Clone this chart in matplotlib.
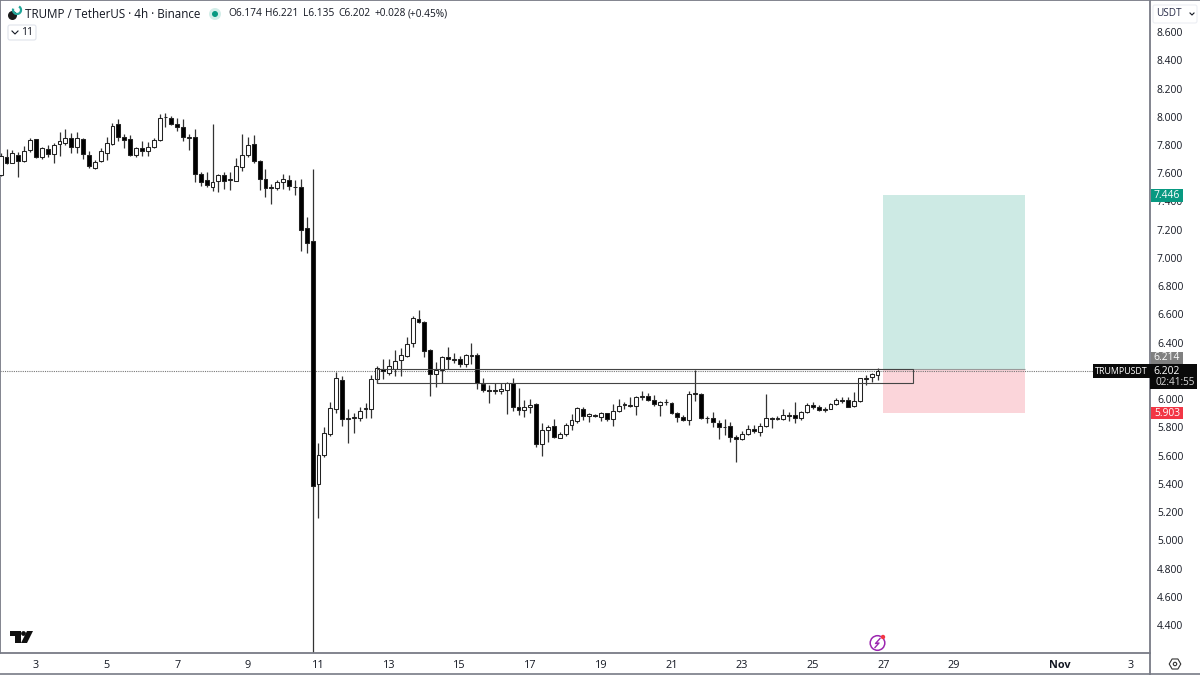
import numpy as np
import matplotlib
matplotlib.use('Agg')
import matplotlib.pyplot as plt
from matplotlib.patches import Rectangle, Circle, Polygon, FancyBboxPatch, Arc

plt.rcParams['font.family'] = ['Open Sans', 'DejaVu Sans']

# 4h candles
opens = [7.584,7.717,7.674,7.729,7.688,7.764,7.840,7.712,7.769,7.736,
         7.804,7.814,7.847,7.783,7.840,7.729,7.634,7.686,7.745,7.806,
         7.948,7.858,7.840,7.726,7.776,7.759,7.783,7.835,7.995,7.988,
         7.948,7.927,7.849,7.856,7.596,7.549,7.504,7.547,7.585,7.552,
         7.547,7.646,7.729,7.809,7.688,7.556,7.495,7.497,7.537,7.549,
         7.504,7.500,7.210,7.118,5.397,5.602,5.753,5.930,6.138,5.857,
         5.869,5.866,5.930,5.930,6.145,6.216,6.188,6.216,6.277,6.308,
         6.395,6.570,6.549,6.348,6.176,6.204,6.301,6.277,6.287,6.249,
         6.308,6.310,6.110,6.065,6.060,6.058,6.065,6.112,5.942,5.926,
         5.942,5.966,5.680,5.782,5.808,5.727,5.751,5.815,5.845,5.928,
         5.881,5.888,5.876,5.900,5.857,5.916,5.961,5.954,5.952,6.018,
         6.022,5.992,5.961,5.977,5.975,5.900,5.876,5.852,6.036,6.039,
         5.864,5.869,5.834,5.805,5.812,5.734,5.716,5.751,5.789,5.770,
         5.812,5.867,5.862,5.862,5.885,5.885,5.864,5.909,5.959,5.947,
         5.921,5.933,5.963,5.996,5.994,5.949,5.987,6.145,6.159,6.174]
highs = [7.740,7.769,7.764,7.752,7.795,7.847,7.840,7.788,7.799,7.816,
         7.894,7.910,7.887,7.894,7.847,7.759,7.693,7.776,7.858,7.953,
         7.981,7.875,7.870,7.788,7.830,7.823,7.851,8.019,8.028,8.005,
         7.988,7.981,7.875,7.910,7.611,7.611,7.948,7.594,7.611,7.611,
         7.705,7.877,7.858,7.870,7.693,7.627,7.523,7.552,7.594,7.587,
         7.552,7.557,7.287,7.627,5.692,5.805,5.980,6.194,6.164,5.932,
         5.900,5.947,5.975,6.171,6.235,6.287,6.282,6.348,6.360,6.438,
         6.589,6.631,6.556,6.357,6.265,6.306,6.372,6.329,6.308,6.320,
         6.395,6.329,6.152,6.100,6.117,6.112,6.124,6.147,6.079,5.994,
         5.999,5.970,5.829,5.817,5.857,5.770,5.834,5.895,5.942,5.942,
         5.904,5.895,5.911,5.904,5.963,5.999,5.977,6.018,6.022,6.060,
         6.041,6.029,5.989,5.999,5.982,5.911,5.888,6.060,6.206,6.041,
         5.881,5.907,5.852,5.857,5.841,5.746,5.775,5.817,5.817,5.829,
         6.036,5.876,5.881,5.928,5.907,5.977,5.918,5.975,5.982,5.959,
         5.942,5.970,6.006,6.013,6.018,6.051,6.147,6.171,6.183,6.221]
lows = [7.580,7.665,7.670,7.575,7.681,7.752,7.710,7.698,7.712,7.670,
        7.724,7.799,7.740,7.745,7.700,7.634,7.629,7.681,7.693,7.799,
        7.830,7.781,7.724,7.712,7.722,7.724,7.776,7.830,7.929,7.941,
        7.901,7.830,7.764,7.540,7.509,7.504,7.476,7.469,7.486,7.481,
        7.545,7.618,7.717,7.674,7.481,7.434,7.379,7.481,7.488,7.481,
        7.445,7.052,7.033,4.100,5.156,5.593,5.739,5.899,5.810,5.692,
        5.763,5.848,5.864,5.864,6.112,6.140,6.171,6.162,6.164,6.296,
        6.372,6.537,6.301,6.022,6.088,6.112,6.213,6.254,6.225,6.230,
        6.247,6.070,6.053,5.975,6.037,6.037,5.895,5.918,5.888,5.871,
        5.900,5.659,5.598,5.694,5.723,5.723,5.739,5.782,5.834,5.852,
        5.838,5.871,5.845,5.848,5.812,5.907,5.928,5.947,5.888,5.994,
        5.989,5.954,5.881,5.959,5.893,5.836,5.845,5.817,5.989,5.859,
        5.829,5.805,5.718,5.746,5.699,5.553,5.711,5.746,5.758,5.741,
        5.800,5.793,5.852,5.852,5.848,5.834,5.852,5.900,5.928,5.916,
        5.907,5.928,5.959,5.975,5.942,5.947,5.982,6.100,6.119,6.135]
closes = [7.721,7.674,7.740,7.686,7.759,7.835,7.717,7.776,7.736,7.799,
          7.830,7.847,7.785,7.847,7.736,7.651,7.677,7.759,7.811,7.936,
          7.858,7.837,7.729,7.776,7.759,7.785,7.832,7.988,8.000,7.948,
          7.927,7.854,7.858,7.596,7.537,7.516,7.540,7.585,7.547,7.556,
          7.651,7.729,7.799,7.688,7.556,7.497,7.500,7.537,7.559,7.509,
          7.500,7.198,7.103,5.385,5.602,5.758,5.940,6.147,5.859,5.864,
          5.874,5.918,5.937,6.140,6.218,6.199,6.232,6.270,6.310,6.390,
          6.572,6.546,6.341,6.178,6.204,6.301,6.282,6.284,6.249,6.310,
          6.313,6.112,6.067,6.060,6.062,6.070,6.112,5.944,5.926,5.942,
          5.961,5.680,5.782,5.803,5.732,5.756,5.815,5.850,5.935,5.883,
          5.893,5.878,5.900,5.857,5.918,5.954,5.963,5.959,6.013,6.025,
          5.994,5.963,5.980,5.982,5.900,5.876,5.852,6.034,6.041,5.867,
          5.867,5.838,5.803,5.800,5.734,5.716,5.751,5.786,5.772,5.810,
          5.869,5.862,5.867,5.890,5.881,5.867,5.909,5.956,5.947,5.923,
          5.933,5.963,5.996,5.989,5.947,5.989,6.147,6.150,6.176,6.202]

price_ticks = [4.4,4.6,4.8,5.0,5.2,5.4,5.6,5.8,6.0,6.2,6.4,6.6,6.8,7.0,7.2,7.4,7.6,7.8,8.0,8.2,8.4,8.6]
day_pos = [6,18,30,42,54,66,78,90,102,114,126,138,150,162,180,192]
day_labels = ['3','5','7','9','11','13','15','17','19','21','23','25','27','29','Nov','3']

last_price = 6.202
entry = 6.214
target = 7.446
stop = 5.903
zone_low = 6.112
zone_start, zone_end = 64, 155
pos_start, pos_end = 150, 174.1

# legend row, split because the pieces sit at fixed spots
ohlc_parts = ['O6.174', 'H6.221', 'L6.135', 'C6.202', '+0.028', '(+0.45%)']
ohlc_xpos = [228, 265.5, 303, 338, 375, 408]

W, H = 1200, 675
PANEL_X, PANEL_Y = 1150, 653
INK = '#131722'
BORDER = '#787b86'

opens, highs, lows, closes = map(np.array, (opens, highs, lows, closes))
x = np.arange(len(opens))

fig = plt.figure(figsize=(12, 6.75), dpi=100, facecolor='white')
ax = fig.add_axes([0, 1 - PANEL_Y / H, PANEL_X / W, PANEL_Y / H])
ax.set_xlim(-0.114, 195.3)
ax.set_ylim(4.202, 8.827)

# position box
ax.add_patch(Rectangle((pos_start, entry), pos_end - pos_start, target - entry,
                       fc='#cdeae4', ec='none', zorder=1))
ax.add_patch(Rectangle((pos_start, stop), pos_end - pos_start, entry - stop,
                       fc='#fbd5da', ec='none', zorder=1))
ax.hlines(entry, pos_start, pos_end, color='#9a9a9a', lw=0.8, zorder=1.2)

# candles
body_low = np.minimum(opens, closes)
body_h = np.abs(closes - opens)
colors = ['white' if c >= o else 'black' for o, c in zip(opens, closes)]
ax.vlines(x, lows, highs, color='#333333', lw=0.9, zorder=2)
ax.bar(x, body_h, bottom=body_low, width=0.66, color=colors,
       edgecolor='#222222', linewidth=0.75, zorder=3)

# zone rectangle and last price line
ax.add_patch(Rectangle((zone_start, zone_low), zone_end - zone_start, entry - zone_low,
                       fc='none', ec='#444444', lw=0.8, zorder=4))
ax.axhline(last_price, color='#777777', lw=0.8, ls=(0, (1, 1)), zorder=1.5)

# axes and ticks
for s in ('left', 'right', 'bottom', 'top'):
    ax.spines[s].set_color(BORDER)
    ax.spines[s].set_linewidth(1.3)
ax.yaxis.tick_right()
ax.set_yticks(price_ticks)
ax.set_yticklabels([f'{v:.3f}' for v in price_ticks])
ax.tick_params(axis='y', length=0, pad=5, labelsize=7.4, labelcolor=INK)
ax.set_xticks(day_pos)
ax.set_xticklabels(day_labels)
ax.tick_params(axis='x', length=0, pad=5, labelsize=7.8, labelcolor=INK)
ax.get_xticklabels()[14].set_fontweight('bold')

# overlay in pixel coordinates for labels and chrome
ov = fig.add_axes([0, 0, 1, 1], zorder=5)
ov.set_xlim(0, W)
ov.set_ylim(H, 0)
ov.axis('off')
ov.patch.set_alpha(0)

ov.hlines([674.3], 0, W, color=BORDER, lw=1.2)
ov.hlines([0.4], PANEL_X, W, color=BORDER, lw=1.2)
ov.vlines([PANEL_X], PANEL_Y, H, color=BORDER, lw=1.3)

def tag(y0, y1, x0, x1, color, text, tc='white', tx=1167):
    ov.add_patch(Rectangle((x0, y0), x1 - x0, y1 - y0, fc=color, ec='none'))
    ov.text(tx, (y0 + y1) / 2, text, color=tc, fontsize=7.4, ha='center', va='center')

tag(189, 202, 1151, 1183, '#089981', f'{target:.3f}')
tag(352, 364, 1151, 1183, '#808080', f'{entry:.3f}')
tag(407, 419, 1151, 1183, '#f23645', f'{stop:.3f}')
ov.add_patch(Rectangle((1093, 364), 57, 14, fc='#0a0a0a', ec='none'))
ov.text(1121, 371, 'TRUMPUSDT', color='white', fontsize=6.4, ha='center', va='center')
ov.add_patch(Rectangle((1150, 364), 47, 25, fc='#0a0a0a', ec='none'))
ov.text(1167, 371, f'{last_price:.3f}', color='white', fontsize=7.4, ha='center', va='center')
ov.text(1175, 382.5, '02:41:55', color='#d8d8d8', fontsize=7.2, ha='center', va='center')

# USDT unit box
ov.add_patch(FancyBboxPatch((1153, 5), 44, 18, boxstyle='round,pad=0,rounding_size=2',
                            fc='white', ec='#eceef3', lw=0.8))
ov.text(1156, 14, 'USDT', color='#2a2e4a', fontsize=7.2, ha='left', va='center')
ov.plot([1190, 1192, 1194], [13, 15, 13], color=INK, lw=0.8)

# header
ov.text(25, 14, 'TRUMP / TetherUS · 4h · Binance', color=INK, fontsize=8.4, ha='left', va='center')
ov.add_patch(Circle((215, 14), 6, fc='#d3eee9', ec='none'))
ov.add_patch(Circle((215, 14), 3, fc='#089981', ec='none'))
for part, px in zip(ohlc_parts, ohlc_xpos):
    ov.text(px, 14, part, color=INK, fontsize=7.3, ha='left', va='center')
ov.add_patch(Circle((12.5, 15.5), 4.5, fc='#1b1b1b', ec='none'))
ov.add_patch(Arc((17, 10), 8, 8, theta1=-60, theta2=200, color='#22a699', lw=1.6))

# collapsed indicators button
ov.add_patch(FancyBboxPatch((8, 25), 28, 15, boxstyle='round,pad=0,rounding_size=2',
                            fc='white', ec='#e0e3eb', lw=0.8))
ov.plot([12, 15, 18], [31, 34, 31], color=INK, lw=0.8)
ov.text(27, 32.5, '11', color=INK, fontsize=7.5, ha='center', va='center')

# tradingview mark
ov.add_patch(Polygon([[10, 631], [21, 631], [21, 643], [15, 643], [15, 636], [10, 636]], fc='#111111', ec='none'))
ov.add_patch(Circle((23.5, 633.5), 2.4, fc='#111111', ec='none'))
ov.add_patch(Polygon([[27, 631], [33, 631], [27, 643], [21, 643]], fc='#111111', ec='none'))

# lightning badge
ov.add_patch(Circle((877.5, 643), 7.3, fc='white', ec='#9c27b0', lw=1.1))
ov.plot([880, 875.5, 879, 875], [638.5, 643.5, 643, 647.5], color='#9c27b0', lw=1)
ov.add_patch(Circle((883, 637), 2.2, fc='#f23645', ec='none'))

# settings hexagon
ang = np.deg2rad([0, 60, 120, 180, 240, 300])
ov.add_patch(Polygon(np.c_[1175 + 5.8 * np.cos(ang), 664 + 5.8 * np.sin(ang)], fc='none', ec='#333333', lw=0.8))
ov.add_patch(Circle((1175, 664), 1.7, fc='none', ec='#333333', lw=0.8))

fig.savefig('out.png', dpi=100)
